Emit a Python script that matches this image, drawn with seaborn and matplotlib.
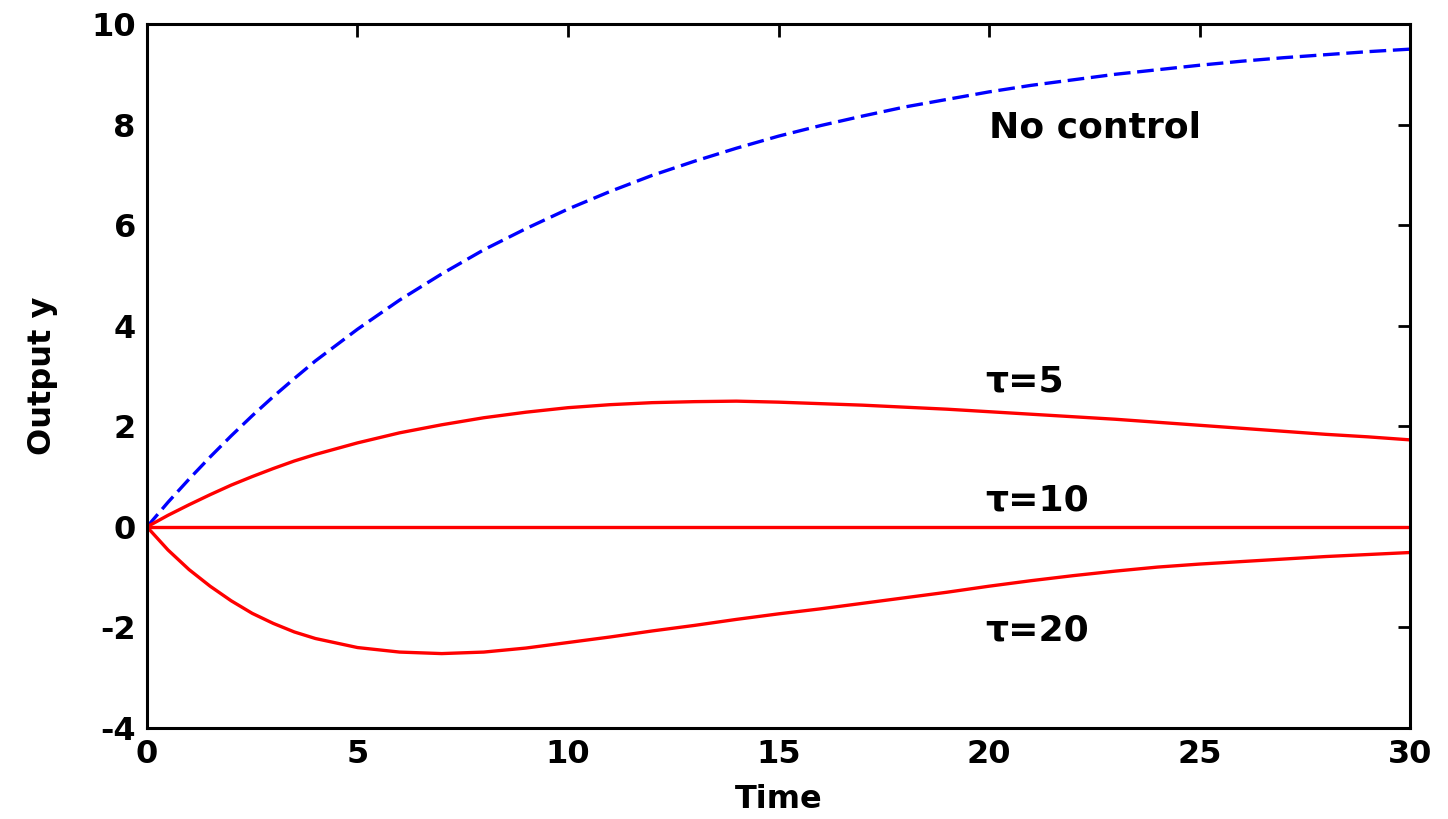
import numpy as np
import pandas as pd
import matplotlib
matplotlib.use("Agg")
import matplotlib.pyplot as plt
import seaborn as sns

# ---- data ----
time = [0, 0.5, 1, 1.5, 2, 2.5, 3, 3.5, 4, 5, 6, 7, 8, 9, 10,
        11, 12, 13, 14, 15, 16, 17, 18, 19, 20,
        21, 22, 23, 24, 25, 26, 27, 28, 29, 30]
no_control = [0.0, 0.49, 0.95, 1.39, 1.81, 2.21, 2.59, 2.95, 3.30, 3.93, 4.51, 5.03, 5.51, 5.93, 6.32,
              6.67, 6.99, 7.27, 7.53, 7.77, 7.98, 8.17, 8.35, 8.50, 8.65,
              8.78, 8.89, 9.00, 9.09, 9.18, 9.26, 9.33, 9.39, 9.45, 9.50]
tau5 = [0.0, 0.23, 0.44, 0.64, 0.83, 1.00, 1.16, 1.31, 1.44, 1.67, 1.87, 2.03, 2.17, 2.28, 2.37,
        2.43, 2.47, 2.49, 2.50, 2.48, 2.45, 2.42, 2.38, 2.34, 2.29,
        2.24, 2.19, 2.14, 2.08, 2.02, 1.96, 1.90, 1.84, 1.79, 1.73]
tau10 = [0.0] * 35
tau20 = [0.0, -0.46, -0.85, -1.18, -1.47, -1.72, -1.92, -2.09, -2.22, -2.40, -2.49, -2.52, -2.49, -2.41, -2.30,
         -2.19, -2.07, -1.96, -1.84, -1.73, -1.63, -1.52, -1.41, -1.30, -1.18,
         -1.07, -0.97, -0.88, -0.80, -0.74, -0.69, -0.64, -0.59, -0.55, -0.51]
x_ticks = [0, 5, 10, 15, 20, 25, 30]
y_ticks = [-4, -2, 0, 2, 4, 6, 8, 10]
labels = ["No control", "τ=5", "τ=10", "τ=20"]
label_pos = [(20.0, 7.95), (19.9, 2.9), (19.9, 0.52), (19.9, -2.07)]

sns.set_style("white")
plt.rcParams['font.family'] = ['DejaVu Sans']
plt.rcParams['font.weight'] = 'bold'
plt.rcParams['axes.unicode_minus'] = False
plt.rcParams['text.color'] = 'black'
plt.rcParams['axes.labelcolor'] = 'black'
plt.rcParams['xtick.color'] = 'black'
plt.rcParams['ytick.color'] = 'black'

fig = plt.figure(figsize=(14.48, 8.19), dpi=100)
ax = fig.add_axes([0.1015, 0.1111, 0.8723, 0.8596])

df = pd.DataFrame({"t": time, "nc": no_control, "t5": tau5, "t10": tau10, "t20": tau20})
sns.lineplot(data=df, x="t", y="nc", ax=ax, color=(0, 0, 1), lw=2.4,
             linestyle=(0, (5, 2)))
for col in ["t5", "t10", "t20"]:
    sns.lineplot(data=df, x="t", y=col, ax=ax, color=(1, 0, 0), lw=2.4)

ax.set_xlim(0, 30)
ax.set_ylim(-4, 10)
ax.set_xticks(x_ticks)
ax.set_yticks(y_ticks)
ax.tick_params(direction="in", length=9, width=2, top=True, right=True,
               labelsize=23, pad=8, colors="black")
for lab in ax.get_xticklabels() + ax.get_yticklabels():
    lab.set_fontweight("bold")
for s in ax.spines.values():
    s.set_visible(True)
    s.set_color("black")
    s.set_linewidth(2.2)

ax.set_xlabel("Time", fontsize=23, fontweight="bold", labelpad=10, color="black")
ax.set_ylabel("Output y", fontsize=23, fontweight="bold", labelpad=24, color="black")

for txt, (tx, ty) in zip(labels, label_pos):
    ax.text(tx, ty, txt, fontsize=26, fontweight="bold", ha="left", va="center",
            color="black")

fig.savefig("out.png", dpi=100, facecolor="white")
